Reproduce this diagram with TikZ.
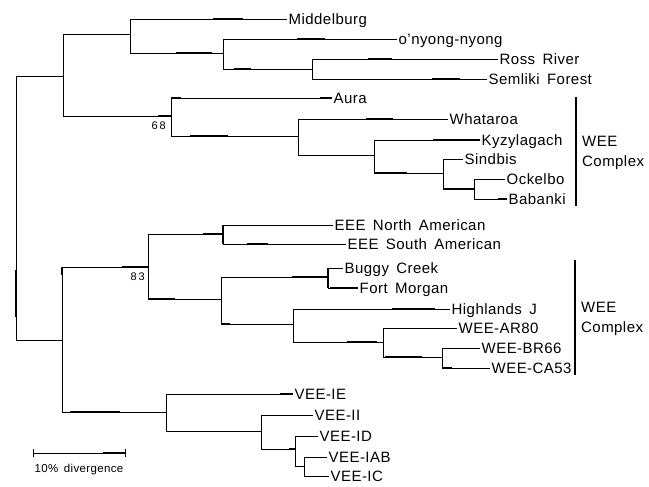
\documentclass[tikz,border=0pt]{standalone}
\usepackage{fontspec}
\setmainfont{Liberation Sans}[LetterSpace=3,WordSpace=1.6]
\usepackage{tikz}

\begin{document}
\begin{tikzpicture}[x=1pt,y=-1pt,
    branch/.style={line width=0.9pt},
    heavy/.style={line width=2.2pt},
    bracket/.style={line width=1.8pt},
    taxon/.style={anchor=west,inner sep=1.5pt,font=\fontsize{15}{20}\selectfont,text height=10.7pt,text depth=0pt},
    clade/.style={anchor=west,align=left,inner sep=0pt,font=\fontsize{15}{20}\selectfont},
    boot/.style={inner sep=0pt,font=\fontsize{11}{12}\selectfont\addfontfeatures{LetterSpace=18}}]
    \useasboundingbox (0,0) rectangle (649,487);
    % Inner nodes of the tree
    \coordinate (root) at (16,208);
    \coordinate (A) at (63,76);
    \coordinate (B) at (130,34);
    \coordinate (D) at (223,53);
    \coordinate (E) at (312,69);
    \coordinate (C) at (171,116);
    \coordinate (F) at (298,136);
    \coordinate (G) at (374,155);
    \coordinate (H) at (443,173);
    \coordinate (I) at (474,189);
    \coordinate (J) at (62,340);
    \coordinate (K) at (148,267);
    \coordinate (L) at (223,234);
    \coordinate (M) at (221,299);
    \coordinate (N) at (328,277);
    \coordinate (O) at (293,324);
    \coordinate (P) at (383,342);
    \coordinate (Q) at (442,357);
    \coordinate (R) at (166,412);
    \coordinate (S) at (261,431);
    \coordinate (T) at (295,449);
    \coordinate (U) at (304,466);
    % Virus names
    \node[taxon] (midd) at (287,19) {Middelburg};
    \node[taxon] (onyong) at (397,39) {o'nyong-nyong};
    \node[taxon] (ross) at (498,59) {Ross River};
    \node[taxon] (semliki) at (487,79) {Semliki Forest};
    \node[taxon] (aura) at (332,98) {Aura};
    \node[taxon] (whataroa) at (448,119) {Whataroa};
    \node[taxon] (kyzyl) at (480,140) {Kyzylagach};
    \node[taxon] (sindbis) at (463,159) {Sindbis};
    \node[taxon] (ockelbo) at (505,179) {Ockelbo};
    \node[taxon] (babanki) at (507,199) {Babanki};
    \node[taxon] (eeena) at (333,225) {EEE North American};
    \node[taxon] (eeesa) at (346,244) {EEE South American};
    \node[taxon] (buggy) at (343,268) {Buggy Creek};
    \node[taxon] (fortm) at (358,288) {Fort Morgan};
    \node[taxon] (hjv) at (450,309) {Highlands J};
    \node[taxon] (ar80) at (457,328) {WEE-AR80};
    \node[taxon] (br66) at (480,348) {WEE-BR66};
    \node[taxon] (ca53) at (490,368) {WEE-CA53};
    \node[taxon] (vie) at (293,394) {VEE-IE};
    \node[taxon] (vii) at (313,415) {VEE-II};
    \node[taxon] (vid) at (318,436) {VEE-ID};
    \node[taxon] (viab) at (327,457) {VEE-IAB};
    \node[taxon] (vic) at (329,476) {VEE-IC};
    % Branches between inner nodes
    \foreach \p/\c in {root/A, root/J, A/B, A/C, B/D, D/E, C/F, F/G, G/H, H/I,
        J/K, J/R, K/L, K/M, M/N, M/O, O/P, P/Q, R/S, S/T, T/U}
        \draw[branch] (\p) |- (\c);
    % Branches to the tips
    \foreach \p/\c in {B/midd, D/onyong, E/ross, E/semliki, C/aura, F/whataroa,
        G/kyzyl, H/sindbis, I/ockelbo, I/babanki, L/eeena, L/eeesa, N/buggy,
        N/fortm, O/hjv, P/ar80, Q/br66, Q/ca53, R/vie, S/vii, T/vid, U/viab, U/vic}
        \draw[branch] (\p) |- (\c.west);
    % Heavier stretches of the branches
    \foreach \xa/\xb/\y in {213/243/19, 176/212/53, 297/325/39, 234/251/69,
        368/392/59, 432/460/79, 158/171/116, 171/181/98, 320/332/98,
        190/228/136, 366/393/119, 374/407/173, 433/480/140, 444/474/189,
        498/507/199, 122/148/267, 148/175/299, 203/223/234, 247/268/244,
        292/328/277, 330/358/288, 221/230/324, 392/435/309, 347/377/342,
        385/422/357, 442/452/368, 70/120/412, 280/293/394, 289/295/449,
        103/125/453}
        \draw[heavy] (\xa,\y) -- (\xb,\y);
    \foreach \x/\ya/\yb in {16/270/317, 328/268/288, 223/225/244, 62/267/275}
        \draw[heavy] (\x,\ya) -- (\x,\yb);
    % Bootstrap values
    \node[boot,anchor=north east] (b68) at ([xshift=-5pt,yshift=-6pt]C) {68};
    \node[boot,anchor=north east] (b83) at ([xshift=-3pt,yshift=-6pt]K) {83};
    % WEE complex brackets
    \coordinate (wtop1) at (576,97);
    \coordinate (wbot1) at (576,206);
    \draw[bracket] (wtop1) -- (wbot1);
    \node[clade] (wee1) at (582,153) {WEE\\Complex};
    \coordinate (wtop2) at (575,260);
    \coordinate (wbot2) at (575,375);
    \draw[bracket] (wtop2) -- (wbot2);
    \draw[heavy] (wtop2) -- ++(0,20);
    \node[clade] (wee2) at (581,319) {WEE\\Complex};
    % Scale bar
    \coordinate (s0) at (33,453);
    \coordinate (s1) at (125,453);
    \draw[branch] (s0) -- (s1);
    \draw[branch] ([yshift=4pt]s0) -- ([yshift=-4pt]s0);
    \draw[branch] ([yshift=4pt]s1) -- ([yshift=-4pt]s1);
    \node[boot,anchor=north,font=\fontsize{11.5}{12}\selectfont] (scale) at (79,464) {10\% divergence};
\end{tikzpicture}
\end{document}
